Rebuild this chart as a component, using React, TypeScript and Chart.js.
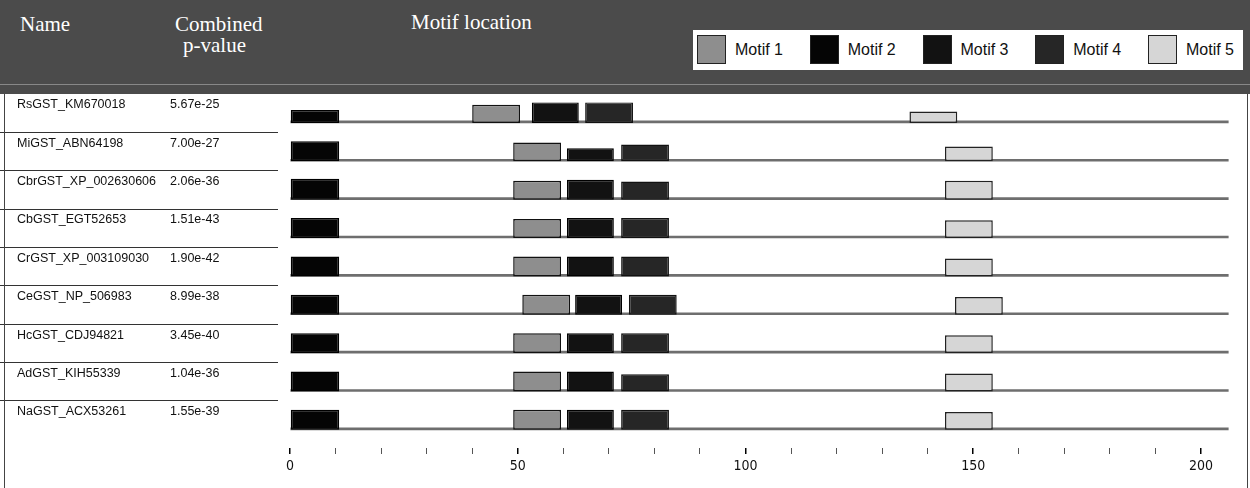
import React, { useEffect, useRef } from 'react';
import { Chart, registerables } from 'chart.js';

Chart.register(...registerables);

// ---------- data ----------
const proteinNames = [
  'RsGST_KM670018',
  'MiGST_ABN64198',
  'CbrGST_XP_002630606',
  'CbGST_EGT52653',
  'CrGST_XP_003109030',
  'CeGST_NP_506983',
  'HcGST_CDJ94821',
  'AdGST_KIH55339',
  'NaGST_ACX53261',
];
const combinedPValues = [
  '5.67e-25', '7.00e-27', '2.06e-36', '1.51e-43', '1.90e-42',
  '8.99e-38', '3.45e-40', '1.04e-36', '1.55e-39',
];
const proteinLengths = [206, 206, 206, 206, 206, 206, 206, 206, 206];

const motifNames = ['Motif 1', 'Motif 2', 'Motif 3', 'Motif 4', 'Motif 5'];
const motifWidths = [10.5, 10.8, 10.3, 10.5, 10.5];

const motif1Start = [40, 49, 49, 49, 49, 51, 49, 49, 49];
const motif2Start = [0, 0, 0, 0, 0, 0, 0, 0, 0];
const motif3Start = [53.1, 60.8, 60.8, 60.8, 60.8, 62.6, 60.8, 60.8, 60.8];
const motif4Start = [64.8, 72.7, 72.7, 72.7, 72.7, 74.4, 72.7, 72.7, 72.7];
const motif5Start = [136, 143.8, 143.8, 143.8, 143.8, 146, 143.8, 143.8, 143.8];

// relative site significance (box height fraction)
const motif1Score = [0.86, 0.9, 0.9, 0.9, 0.95, 0.95, 0.95, 0.95, 0.95];
const motif2Score = [0.62, 0.95, 1, 0.95, 0.95, 0.95, 0.95, 0.95, 0.95];
const motif3Score = [1, 0.62, 0.95, 0.95, 0.95, 0.95, 0.95, 0.95, 0.95];
const motif4Score = [1, 0.8, 0.86, 0.95, 0.95, 0.95, 0.95, 0.82, 0.95];
const motif5Score = [0.55, 0.7, 0.9, 0.85, 0.85, 0.85, 0.85, 0.85, 0.85];

const axisTicks = [0, 10, 20, 30, 40, 50, 60, 70, 80, 90, 100, 110, 120, 130, 140, 150, 160, 170, 180, 190, 200];
const axisLabelStep = 50;

// ---------- styles ----------
const motifFill = ['#8e8e8e', '#050505', '#121212', '#262626', '#d6d6d6'];
const motifBorder = ['#111', '#000', '#000', '#111', '#222'];
const MAX_BOX_H = 21;
const headerBg = '#4b4b4b';

const starts = [motif1Start, motif2Start, motif3Start, motif4Start, motif5Start];
const scores = [motif1Score, motif2Score, motif3Score, motif4Score, motif5Score];

const motifPlugin = {
  id: 'motifGeometry',
  beforeDatasetsDraw(chart: any) {
    const yScale = chart.scales.y;
    chart.data.datasets.forEach((ds: any, d: number) => {
      const meta = chart.getDatasetMeta(d);
      meta.data.forEach((el: any, i: number) => {
        const base = yScale.getPixelForValue(i);
        if (ds.backbone) {
          el.y = base;
          el.height = 2;
        } else {
          const h = ds.siteScores[i] * MAX_BOX_H;
          el.y = base + 1 - h / 2;
          el.height = h;
        }
      });
    });
  },
};

const tablePlugin = {
  id: 'nameTable',
  afterDraw(chart: any) {
    const ctx = chart.ctx;
    const yScale = chart.scales.y;
    ctx.save();
    ctx.fillStyle = '#111';
    ctx.font = '12.5px "Liberation Sans", Arial, sans-serif';
    ctx.textBaseline = 'middle';
    proteinNames.forEach((name, i) => {
      const base = yScale.getPixelForValue(i);
      ctx.fillText(name, 17, base - 17);
      ctx.fillText(combinedPValues[i], 170, base - 17);
      if (i < proteinNames.length - 1) {
        ctx.strokeStyle = '#333';
        ctx.lineWidth = 1;
        ctx.beginPath();
        ctx.moveTo(0, Math.round(base + 10) + 0.5);
        ctx.lineTo(278, Math.round(base + 10) + 0.5);
        ctx.stroke();
      }
    });
    // frame borders
    ctx.strokeStyle = '#444';
    ctx.beginPath();
    ctx.moveTo(4.5, 94);
    ctx.lineTo(4.5, 488);
    ctx.moveTo(1247.5, 94);
    ctx.lineTo(1247.5, 488);
    ctx.stroke();
    ctx.restore();
  },
};

export default function App() {
  const ref = useRef<HTMLCanvasElement>(null);

  useEffect(() => {
    if (!ref.current) return;
    const datasets: any[] = motifNames.map((name, m) => ({
      label: name,
      data: starts[m].map((s) => [s, s + motifWidths[m]]),
      siteScores: scores[m],
      backgroundColor: motifFill[m],
      borderColor: motifBorder[m],
      borderWidth: 1.5,
      borderSkipped: false,
      grouped: false,
      order: 0,
    }));
    datasets.push({
      label: 'sequence',
      backbone: true,
      data: proteinLengths.map((len) => [0, len]),
      backgroundColor: '#6e6e6e',
      borderWidth: 0,
      grouped: false,
      barThickness: 2,
      order: 10,
    });

    const chart = new Chart(ref.current, {
      type: 'bar',
      data: { labels: proteinNames, datasets },
      options: {
        indexAxis: 'y',
        responsive: false,
        animation: false,
        layout: { padding: { left: 290, right: 3.5, top: 102.75, bottom: 9.2 } },
        plugins: { legend: { display: false }, tooltip: { enabled: false } },
        scales: {
          y: { type: 'category', display: false, offset: true },
          x: {
            type: 'linear',
            min: 0,
            max: 210,
            border: { display: false },
            grid: {
              drawOnChartArea: false,
              drawTicks: true,
              tickLength: 6,
              color: (c: any) => (c.tick && c.tick.value % axisLabelStep === 0 ? '#000' : '#555'),
              lineWidth: (c: any) => (c.tick && c.tick.value % axisLabelStep === 0 ? 1.5 : 1),
            },
            afterBuildTicks: (scale: any) => {
              scale.ticks = axisTicks.map((v) => ({ value: v }));
            },
            ticks: {
              autoSkip: false,
              maxRotation: 0,
              padding: 4,
              color: '#111',
              font: { family: '"Liberation Sans Narrow", "DejaVu Sans Condensed", "Liberation Sans", sans-serif', size: 14 },
              callback: (v: any) => (Number(v) % axisLabelStep === 0 ? String(v) : ''),
            },
          },
        },
      },
      plugins: [motifPlugin, tablePlugin],
    });
    return () => chart.destroy();
  }, []);

  const headText: React.CSSProperties = {
    position: 'absolute',
    color: '#fff',
    fontFamily: '"Liberation Serif", "DejaVu Serif", serif',
    fontSize: 21,
    lineHeight: '21px',
    whiteSpace: 'nowrap',
  };

  return (
    <div style={{ position: 'fixed', left: 0, top: 0, width: 1250, height: 488, background: '#fff', overflow: 'hidden' }}>
      <canvas ref={ref} width={1250} height={488} style={{ position: 'absolute', left: 0, top: 0 }} />
      <div style={{ position: 'absolute', left: 0, top: 0, width: 1250, height: 94, background: headerBg }}>
        <div style={{ position: 'absolute', left: 0, top: 84, width: 1250, height: 1, background: 'rgba(210,210,210,0.45)' }} />
        <div style={{ ...headText, left: 20, top: 14 }}>Name</div>
        <div style={{ ...headText, left: 175, top: 14 }}>Combined</div>
        <div style={{ ...headText, left: 183, top: 35 }}>p-value</div>
        <div style={{ ...headText, left: 411, top: 12 }}>Motif location</div>
        <div style={{ position: 'absolute', left: 693, top: 30, width: 550, height: 40, background: '#fff' }}>
          {motifNames.map((name, m) => (
            <div key={name} style={{ position: 'absolute', left: 4 + m * 112.75, top: 5, height: 29, display: 'flex', alignItems: 'center' }}>
              <div style={{ width: 27, height: 27, background: motifFill[m], border: '1px solid #222' }} />
              <span style={{ marginLeft: 9, fontFamily: '"Liberation Sans", Arial, sans-serif', fontSize: 16, color: '#111' }}>{name}</span>
            </div>
          ))}
        </div>
      </div>
    </div>
  );
}
